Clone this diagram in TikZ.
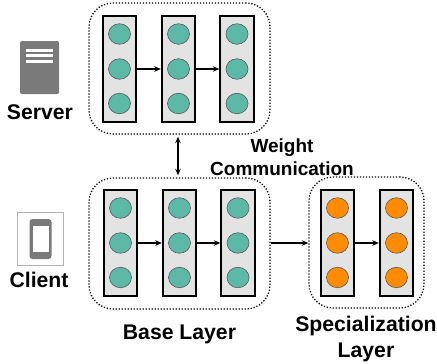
\documentclass[tikz,border=0pt]{standalone}
\usepackage{fontspec}
\setmainfont{Liberation Sans}
\usetikzlibrary{arrows.meta,shapes.geometric}
\definecolor{teal1}{HTML}{5BB9A6}
\definecolor{orange1}{HTML}{FF8C00}
\definecolor{colfill}{HTML}{E3E3E3}
\definecolor{icongray}{HTML}{7A7A7A}
\tikzset{
  x=1pt,y=-1pt,
  colbox/.style={draw=black,line width=1.9pt,fill=colfill,minimum width=33.5pt,minimum height=105.5pt,inner sep=0pt,anchor=center},
  neuron/.style={ellipse,draw=black!65,line width=0.6pt,minimum width=22pt,minimum height=20.5pt,inner sep=0pt},
  tealn/.style={neuron,fill=teal1},
  orangen/.style={neuron,fill=orange1},
  group/.style={draw=black,line width=1.35pt,dash pattern=on 1.2pt off 1.8pt,rounded corners=24pt,inner sep=0pt},
  flow/.style={-{Stealth[length=6.5pt,width=5.5pt]},line width=1.5pt,black},
  both/.style={{Stealth[length=6.5pt,width=5.5pt]}-{Stealth[length=6.5pt,width=5.5pt]},line width=1.4pt,black},
  lab/.style={font=\bfseries\fontsize{21.2}{24}\selectfont,text=black,inner sep=0pt,align=center},
}
\newcommand{\column}[5]{% name, x, y, style, unused
  \node[colbox] (#1) at (#2,#3) {};
  \node[#4] (#1a) at (#2,#3-35) {};
  \node[#4] (#1b) at (#2,#3) {};
  \node[#4] (#1c) at (#2,#3+34.5) {};
}
\begin{document}
\begin{tikzpicture}
\useasboundingbox (0,0) rectangle (437,364);
% groups
\node[group,minimum width=181pt,minimum height=131pt] (gs) at (179.5,68.5) {};
\node[group,minimum width=181pt,minimum height=131pt] (gb) at (179.5,243.5) {};
\node[group,minimum width=115pt,minimum height=131pt] (gp) at (366.5,242.5) {};
% columns
\column{s1}{119.5}{69}{tealn}{}
\column{s2}{178.5}{69}{tealn}{}
\column{s3}{237}{69}{tealn}{}
\column{b1}{120.5}{243}{tealn}{}
\column{b2}{179.5}{243}{tealn}{}
\column{b3}{238}{243}{tealn}{}
\column{p1}{337.5}{243}{orangen}{}
\column{p2}{396.5}{243}{orangen}{}
% arrows
\draw[flow] (s1) -- (s2);
\draw[flow] (s2) -- (s3);
\draw[flow] (b1) -- (b2);
\draw[flow] (b2) -- (b3);
\draw[flow] (gb.east |- b3) -- (gp.west |- b3);
\draw[flow] (p1) -- (p2);
\draw[both] (gs.south) ++(-1.5,2) coordinate (wt) (gb.north) ++(-1.5,-2) coordinate (wb) (wt) -- (wb);
% server icon
\node[draw=none,fill=icongray,rounded corners=2pt,minimum width=39pt,minimum height=53pt,inner sep=0pt] (srv) at (39.5,67.5) {};
\node[fill=white,minimum width=27pt,minimum height=3pt,inner sep=0pt] (srv1) at (39.5,50) {};
\node[fill=white,minimum width=27pt,minimum height=3pt,inner sep=0pt] (srv2) at (39.5,55.5) {};
\node[fill=white,minimum width=27pt,minimum height=3pt,inner sep=0pt] (srv3) at (39.5,61) {};
% client icon
\node[draw=black!30,line width=0.6pt,minimum width=46pt,minimum height=53pt,inner sep=0pt] (cli) at (40.5,238.5) {};
\node[fill=icongray,rounded corners=3pt,minimum width=22pt,minimum height=40pt,inner sep=0pt] (ph) at (40.5,239) {};
\node[fill=white,minimum width=16pt,minimum height=26pt,inner sep=0pt] (scr) at (40.5,239) {};
% labels
\node[lab] (lserver) at (40,112) {Server};
\node[lab] (lclient) at (39,279.5) {Client};
\node[lab,font=\bfseries\fontsize{19}{22.5}\selectfont] (lweight) at (282,157) {Weight\\Communication};
\node[lab] (lbase) at (179.5,334) {Base Layer};
\node[lab,font=\bfseries\fontsize{21.2}{26}\selectfont] (lspec) at (366,339.5) {Specialization\\Layer};
\end{tikzpicture}
\end{document}
